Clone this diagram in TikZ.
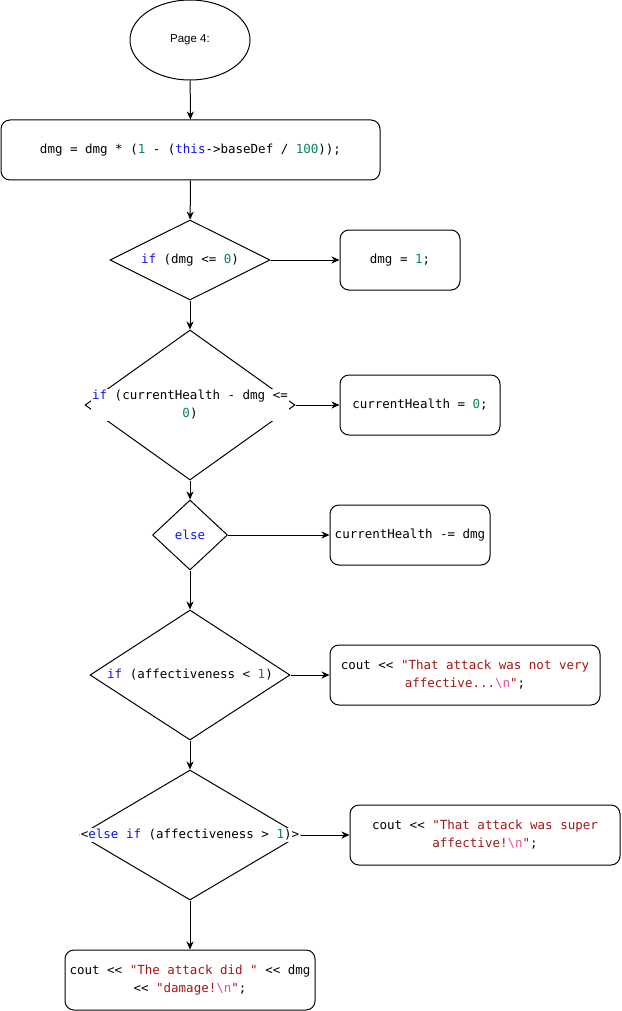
\documentclass[tikz,border=0pt]{standalone}
\usepackage{fontspec}
\setsansfont{Liberation Sans}
\setmonofont{DejaVu Sans Mono}
\usepackage{xcolor}
\usetikzlibrary{positioning,shapes,arrows.meta}
\definecolor{kwblue}{RGB}{20,20,230}
\definecolor{numgreen}{RGB}{9,134,88}
\definecolor{strred}{RGB}{163,21,21}
\definecolor{escpink}{RGB}{230,80,150}
\newcommand{\ckw}[1]{\textcolor{kwblue}{#1}}
\newcommand{\cnum}[1]{\textcolor{numgreen}{#1}}
\newcommand{\cstr}[1]{\textcolor{strred}{#1}}
\newcommand{\cesc}{\textcolor{escpink}{\textbackslash n}}
\tikzset{
    startnode/.style={draw, ellipse, line width=1pt, minimum width=120pt, minimum height=80pt, font=\sffamily\fontsize{11.5}{14}\selectfont},
    codebox/.style={draw, rectangle, rounded corners=9pt, line width=1pt, minimum height=60pt, align=center, font=\ttfamily\fontsize{12.5}{18}\selectfont},
    decision/.style={draw, diamond, line width=1pt, inner sep=0pt},
    codelbl/.style={fill=white, inner sep=1pt, align=center, font=\ttfamily\fontsize{12.5}{18}\selectfont},
    flow/.style={-{Stealth[length=8pt,width=7pt,inset=2.5pt]}, line width=1pt}
}
\begin{document}
\begin{tikzpicture}[x=1pt,y=1pt]
    \useasboundingbox (0,0) rectangle (621,-1011);
    % main column
    \node[startnode] (page) at (190,-40) {Page 4:};
    \node[codebox, minimum width=379pt] (calc) at (190.5,-150) {dmg = dmg * (\cnum{1} - (\ckw{this}->baseDef / \cnum{100}));};
    \node[decision, minimum width=160pt, minimum height=80pt] (zero) at (190,-260) {};
    \node[codelbl, fill=none] at (zero) {\ckw{if} (dmg <= \cnum{0})};
    \node[decision, minimum width=210pt, minimum height=150pt] (dead) at (190,-405) {};
    \node[codelbl] at (dead) {\ckw{if} (currentHealth - dmg <=\\\cnum{0})};
    \node[decision, minimum width=75pt, minimum height=70pt] (alive) at (190,-535) {};
    \node[codelbl, fill=none] at (alive) {\ckw{else}};
    \node[decision, minimum width=200pt, minimum height=130pt] (weak) at (190,-675) {};
    \node[codelbl, fill=none] at (weak) {\ckw{if} (affectiveness < \cnum{1})};
    \node[decision, minimum width=220pt, minimum height=130pt] (strong) at (190,-835) {};
    \node[codelbl] at (strong) {<\ckw{else} \ckw{if} (affectiveness > \cnum{1})>};
    \node[codebox, minimum width=250pt] (done) at (190,-980) {cout << \cstr{"The attack did "} << dmg\\<< \cstr{"damage!}\cesc\cstr{"};};
    % right column
    \node[codebox, minimum width=120pt] (minone) at (400,-260) {dmg = \cnum{1};};
    \node[codebox, minimum width=160pt] (setzero) at (420,-405) {currentHealth = \cnum{0};};
    \node[codebox, minimum width=160pt] (subdmg) at (410,-535) {currentHealth -= dmg};
    \node[codebox, minimum width=270pt] (notvery) at (465,-675) {cout << \cstr{"That attack was not very}\\\cstr{affective...}\cesc\cstr{"};};
    \node[codebox, minimum width=270pt] (super) at (485,-835) {cout << \cstr{"That attack was super}\\\cstr{affective!}\cesc\cstr{"};};
    % connectors
    \draw[flow] (page) -- (calc);
    \draw[flow] (calc) -- (zero);
    \draw[flow] (zero) -- (dead);
    \draw[flow] (dead) -- (alive);
    \draw[flow] (alive) -- (weak);
    \draw[flow] (weak) -- (strong);
    \draw[flow] (strong) -- (done);
    \draw[flow] (zero.east) -- (minone);
    \draw[flow] (dead.east) -- (setzero);
    \draw[flow] (alive.east) -- (subdmg);
    \draw[flow] (weak.east) -- (notvery);
    \draw[flow] (strong.east) -- (super);
\end{tikzpicture}
\end{document}
